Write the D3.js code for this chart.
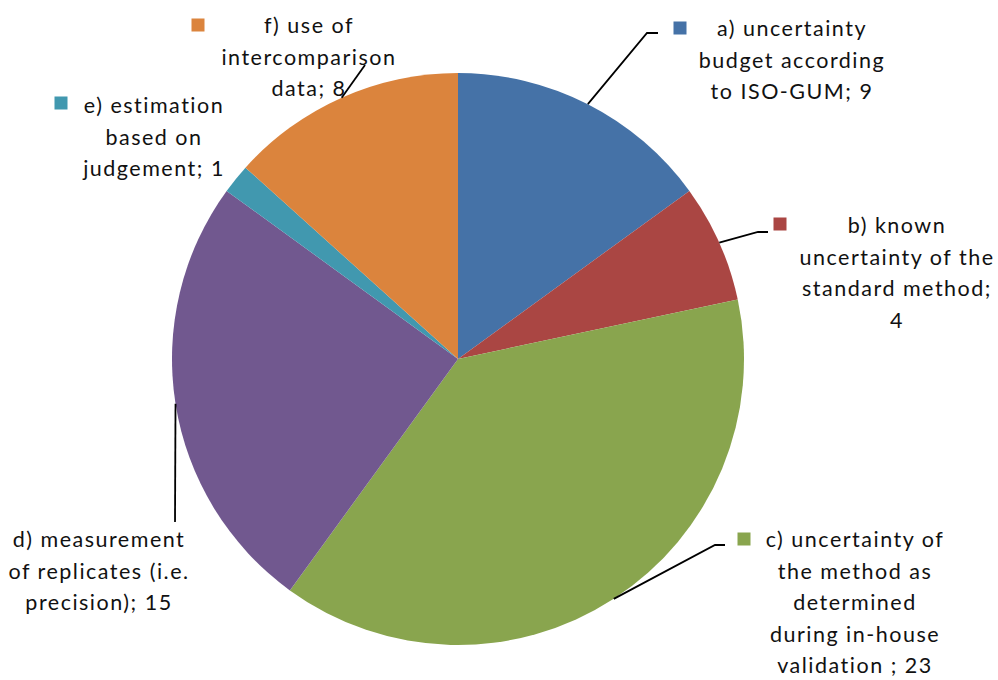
<!DOCTYPE html>
<html>
<head>
<meta charset="utf-8">
<script src="https://cdn.jsdelivr.net/npm/d3@7/dist/d3.min.js"></script>
<style>
  html, body { margin: 0; padding: 0; background: #ffffff; }
  svg { display: block; }
  .lbl { font-family: Lato, "Open Sans", sans-serif; font-size: 21.5px; letter-spacing: 1.5px; fill: #111; }
</style>
</head>
<body>
<svg id="chart" width="998" height="680"></svg>
<script>
// Approaches used to estimate measurement uncertainty (number of answers)
const categories = ["a", "b", "c", "d", "e", "f"];
const values = [9, 4, 23, 15, 1, 8];
// Label text, one entry per line; {v} is replaced by the slice value
const labelLines = [
  ["a) uncertainty", "budget according", "to ISO-GUM; {v}"],
  ["b) known", "uncertainty of the", "standard method;", "{v}"],
  ["c) uncertainty of", "the method as", "determined", "during in-house", "validation ; {v}"],
  ["d) measurement", "of replicates (i.e.", "precision); {v}"],
  ["e) estimation", "based on", "judgement; {v}"],
  ["f) use of", "intercomparison", "data; {v}"]
];
const colors = ["#4572a7", "#aa4643", "#89a54e", "#71588f", "#4198af", "#db843d"];

// Placement of the data labels (centre x, first baseline, legend key, leader bends)
const layout = {
  a: { x: 792, y: 36, key: [680, 28], leader: [[647, 33], [658, 33]] },
  b: { x: 897, y: 233, key: [780, 224], leader: [[758, 232], [768, 232]] },
  c: { x: 855, y: 547, key: [744, 539], leader: [[715, 545], [725, 545]] },
  d: { x: 99, y: 547, key: null, leader: [[175, 522]] },
  e: { x: 154, y: 113, key: [61, 103], leader: null },
  f: { x: 309, y: 33, key: [198, 25], leader: [[365, 65]] }
};

const cx = 458, cy = 359, radius = 286;
const lineStep = 31.5, keySize = 13;

const svg = d3.select("#chart");
const g = svg.append("g").attr("transform", `translate(${cx},${cy})`);

const pie = d3.pie().sort(null).value(d => d.value);
const arcs = pie(categories.map((c, i) => ({ cat: c, value: values[i], color: colors[i], lines: labelLines[i] })));
const arc = d3.arc().innerRadius(0).outerRadius(radius);

g.selectAll("path.slice")
  .data(arcs)
  .join("path")
  .attr("class", "slice")
  .attr("d", arc)
  .attr("fill", d => d.data.color);

// Leader lines from the slice edge to the label
const edgePoint = d => {
  const a = (d.startAngle + d.endAngle) / 2;
  return [cx + radius * Math.sin(a), cy - radius * Math.cos(a)];
};
const line = d3.line();
svg.selectAll("path.leader")
  .data(arcs.filter(d => layout[d.data.cat].leader))
  .join("path")
  .attr("class", "leader")
  .attr("d", d => line([edgePoint(d), ...layout[d.data.cat].leader]))
  .attr("fill", "none")
  .attr("stroke", "#000")
  .attr("stroke-width", 1.8);

// Legend keys
svg.selectAll("rect.key")
  .data(arcs.filter(d => layout[d.data.cat].key))
  .join("rect")
  .attr("class", "key")
  .attr("x", d => layout[d.data.cat].key[0] - keySize / 2)
  .attr("y", d => layout[d.data.cat].key[1] - keySize / 2)
  .attr("width", keySize)
  .attr("height", keySize)
  .attr("fill", d => d.data.color);

// Label text blocks
const labels = svg.selectAll("text.lbl")
  .data(arcs)
  .join("text")
  .attr("class", "lbl")
  .attr("text-anchor", "middle");
labels.selectAll("tspan")
  .data(d => d.data.lines.map((t, i) => ({
    text: t.replace("{v}", d.data.value),
    x: layout[d.data.cat].x,
    y: layout[d.data.cat].y + i * lineStep
  })))
  .join("tspan")
  .attr("x", d => d.x)
  .attr("y", d => d.y)
  .text(d => d.text);
</script>
</body>
</html>
